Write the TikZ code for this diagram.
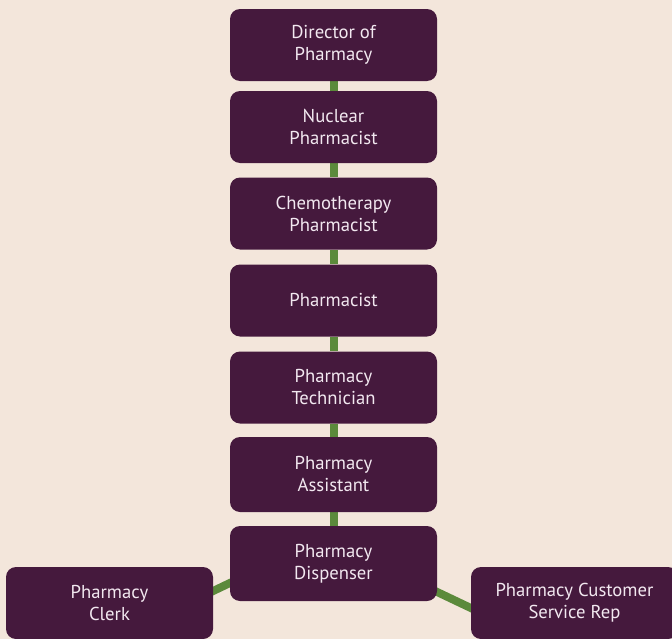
\documentclass[tikz,border=0pt]{standalone}
\usepackage{fontspec}
\setmainfont{PT Sans}
\usetikzlibrary{calc}
\definecolor{bgbeige}{HTML}{F3E6DB}
\definecolor{plum}{HTML}{45193D}
\definecolor{leaf}{HTML}{5B8A3B}
\definecolor{paletext}{HTML}{F2E8F0}
\pgfdeclarelayer{bg}
\pgfdeclarelayer{edges}
\pgfsetlayers{bg,edges,main}
\begin{document}
\begin{tikzpicture}[x=0.75pt,y=-0.75pt,
  role/.style={fill=plum,text=paletext,rounded corners=7.5pt,minimum width=155.25pt,minimum height=54pt,align=center,inner sep=0pt,font=\fontsize{14}{16.5}\selectfont},
  tall/.style={minimum height=56.25pt},
  link/.style={leaf,line width=6pt}]
\useasboundingbox (0,0) rectangle (672,639);
\begin{pgfonlayer}{bg}
\fill[bgbeige] (0,0) rectangle (672,639);
\end{pgfonlayer}
\node[role] (dir) at (333.5,45){Director of\\Pharmacy};
\node[role] (nuc) at (333.5,127){Nuclear\\Pharmacist};
\node[role] (chemo) at (333.5,213.5){Chemotherapy\\Pharmacist};
\node[role] (pharm) at (333.5,300.5){Pharmacist};
\node[role] (tech) at (333.5,387.5){Pharmacy\\Technician};
\node[role,tall] (asst) at (333.5,474.5){Pharmacy\\Assistant};
\node[role,tall] (disp) at (333.5,563.5){Pharmacy\\Dispenser};
\node[role] (clerk) at (109.5,603){Pharmacy\\Clerk};
\node[role] (rep) at (574.5,603){Pharmacy Customer\\Service Rep};
\begin{pgfonlayer}{edges}
\draw[link] (dir) -- (nuc);
\draw[link] (nuc) -- (chemo);
\draw[link] (chemo) -- (pharm);
\draw[link] (pharm) -- (tech);
\draw[link] (tech) -- (asst);
\draw[link] (asst) -- (disp);
\draw[link] ($(disp.west)+(10,14.8)$) -- ($(clerk.east)+(-10,-7.3)$);
\draw[link] ($(disp.east)+(-10,23.8)$) -- ($(rep.west)+(10,9.7)$);
\end{pgfonlayer}
\end{tikzpicture}
\end{document}
